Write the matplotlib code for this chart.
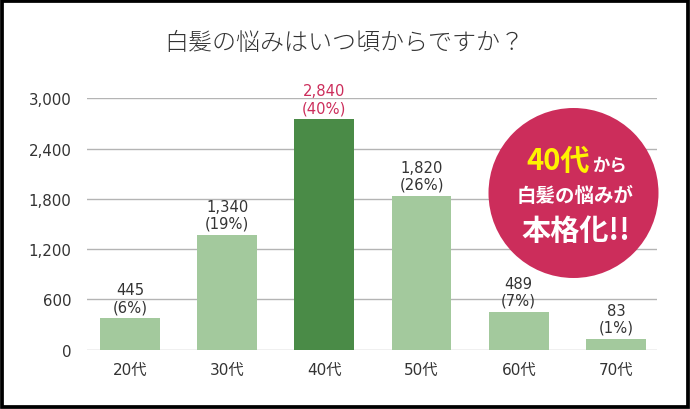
import matplotlib
matplotlib.use("Agg")
import matplotlib.pyplot as plt
from matplotlib.patches import Ellipse, Rectangle

plt.rcParams['font.family'] = ['Noto Sans CJK JP', 'DejaVu Sans']
NUM_FONT = ['DejaVu Sans', 'Noto Sans CJK JP']

# ---- data ----
categories = ["20代", "30代", "40代", "50代", "60代", "70代"]
bar_heights = [375, 1370, 2750, 1835, 455, 130]      # bar heights as drawn
counts = ["445", "1,340", "2,840", "1,820", "489", "83"]  # value labels
percents = [6, 19, 40, 26, 7, 1]
yticks = [0, 600, 1200, 1800, 2400, 3000]
ytick_labels = ["0", "600", "1,200", "1,800", "2,400", "3,000"]
highlight = "40代"
title = "白髪の悩みはいつ頃からですか？"

# ---- style ----
light_green = "#A3C99D"
dark_green = "#4A8B47"
crimson = "#CC2D5B"
text_col = "#333333"
grid_col = "#B4B4B4"

W, H = 690, 410
fig = plt.figure(figsize=(W / 100, H / 100), dpi=100)
fig.patch.set_facecolor("white")

ax = fig.add_axes([86.7 / W, 1 - 350.7 / H, (656.7 - 86.7) / W, (350.7 - 99.3) / H])
ax.set_facecolor("white")

x = list(range(len(categories)))
colors = [dark_green if c == highlight else light_green for c in categories]
bars = ax.bar(x, bar_heights, width=0.615, color=colors, zorder=2)

ax.set_ylim(0, 3000)
ax.set_xlim(-0.445, 5.42)
ax.set_yticks(yticks)
ax.set_yticklabels(ytick_labels, fontsize=10.8, color=text_col, family=NUM_FONT)
ax.set_xticks(x)
ax.set_xticklabels(categories, fontsize=11, color=text_col, family=NUM_FONT)
ax.tick_params(axis="both", length=0)
ax.tick_params(axis="y", pad=11)
ax.tick_params(axis="x", pad=9)
for s in ax.spines.values():
    s.set_visible(False)
ax.yaxis.grid(True, color=grid_col, linewidth=1.0, zorder=0)
ax.set_axisbelow(True)

for xi, h, c, p, cat in zip(x, bar_heights, counts, percents, categories):
    col = crimson if cat == highlight else text_col
    ax.annotate(f"{c}\n({p}%)", xy=(xi, h), xytext=(0, 3),
                textcoords="offset points", ha="center", va="bottom",
                fontsize=10.6, color=col, linespacing=1.15, zorder=3,
                family=NUM_FONT, annotation_clip=False)

# title
fig.text(344 / W, 1 - 44 / H, title, ha="center", va="center",
         fontsize=17.3, color=text_col, fontweight="light")

# circle callout
fig.add_artist(Ellipse((573.5 / W, 1 - 194 / H), 170 / W, 170 / H,
                       transform=fig.transFigure, facecolor=crimson,
                       edgecolor="none", zorder=5))
fig.text(590 / W, 1 - 170 / H, "40代", ha="right", va="baseline",
         fontsize=21, fontweight="bold", color="#FFF200", zorder=6)
fig.text(592 / W, 1 - 170 / H, "から", ha="left", va="baseline",
         fontsize=12.5, fontweight="bold", color="white", zorder=6)
fig.text(575 / W, 1 - 196 / H, "白髪の悩みが", ha="center", va="center",
         fontsize=14, fontweight="bold", color="white", zorder=6)
fig.text(576 / W, 1 - 231 / H, "本格化!!", ha="center", va="center",
         fontsize=21, fontweight="bold", color="white", zorder=6)

# black frame
fig.add_artist(Rectangle((1.75 / W, 2 / H), 1 - 3.75 / W, 1 - 3.75 / H,
                         transform=fig.transFigure, fill=False,
                         edgecolor="black", linewidth=2.7, zorder=10))

fig.savefig("out.png", dpi=100, facecolor="white")
